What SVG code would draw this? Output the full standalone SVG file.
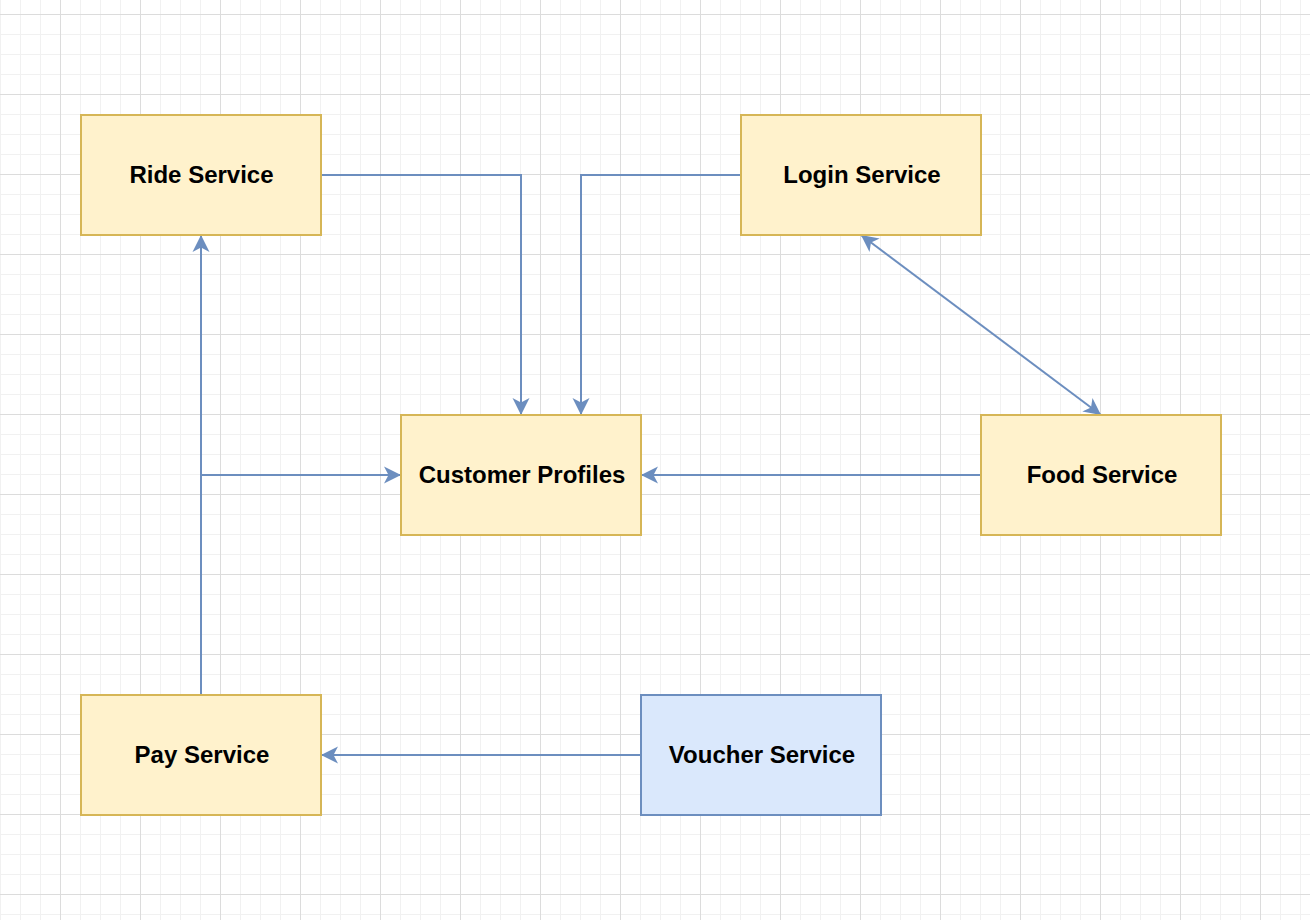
<svg xmlns="http://www.w3.org/2000/svg" width="1310" height="920" viewBox="0 0 1310 920">
<defs>
<pattern id="minor" x="0" y="14" width="20" height="20" patternUnits="userSpaceOnUse">
<rect x="0" y="0" width="20" height="1" fill="#f1f1f1"/>
<rect x="0" y="0" width="1" height="20" fill="#f1f1f1"/>
</pattern>
<pattern id="major" x="60" y="14" width="80" height="80" patternUnits="userSpaceOnUse">
<rect x="0" y="0" width="80" height="1" fill="#dcdcdc"/>
<rect x="0" y="0" width="1" height="80" fill="#dcdcdc"/>
</pattern>
<marker id="arr" viewBox="-18 -10 19 20" refX="0" refY="0" markerWidth="19" markerHeight="20" markerUnits="userSpaceOnUse" orient="auto-start-reverse">
<path d="M0,0 L-17,-8.5 L-12.5,0 L-17,8.5 Z" fill="#6c8ebf"/>
</marker>
</defs>
<style>
.box{fill:#fff2cc;stroke:#d6b656;stroke-width:2}
.blue{fill:#dae8fc;stroke:#6c8ebf;stroke-width:2}
.lbl{font-family:"Liberation Sans",Arial,sans-serif;font-weight:bold;font-size:24px;fill:#000;text-anchor:middle}
.edge{fill:none;stroke:#6c8ebf;stroke-width:2}
</style>
<rect width="1310" height="920" fill="#ffffff"/>
<rect width="1310" height="920" fill="url(#minor)"/>
<rect width="1310" height="920" fill="url(#major)"/>
<g id="connectors">
<path class="edge" d="M321,175 H521 V415" marker-end="url(#arr)"/>
<path class="edge" d="M741,175 H581 V415" marker-end="url(#arr)"/>
<path class="edge" d="M861,235 L1101,415" marker-start="url(#arr)" marker-end="url(#arr)"/>
<path class="edge" d="M981,475 H641" marker-end="url(#arr)"/>
<path class="edge" d="M201,695 V235" marker-end="url(#arr)"/>
<path class="edge" d="M201,475 H401" marker-end="url(#arr)"/>
<path class="edge" d="M641,755 H321" marker-end="url(#arr)"/>
</g>
<g id="ride"><rect class="box" x="81" y="115" width="240" height="120"/><text class="lbl" x="201.5" y="182.7">Ride Service</text></g>
<g id="login"><rect class="box" x="741" y="115" width="240" height="120"/><text class="lbl" x="862" y="182.7">Login Service</text></g>
<g id="customer"><rect class="box" x="401" y="415" width="240" height="120"/><text class="lbl" x="522" y="482.7">Customer Profiles</text></g>
<g id="food"><rect class="box" x="981" y="415" width="240" height="120"/><text class="lbl" x="1102" y="482.7">Food Service</text></g>
<g id="pay"><rect class="box" x="81" y="695" width="240" height="120"/><text class="lbl" x="202" y="762.7">Pay Service</text></g>
<g id="voucher"><rect class="blue" x="641" y="695" width="240" height="120"/><text class="lbl" x="762" y="762.7">Voucher Service</text></g>
</svg>
